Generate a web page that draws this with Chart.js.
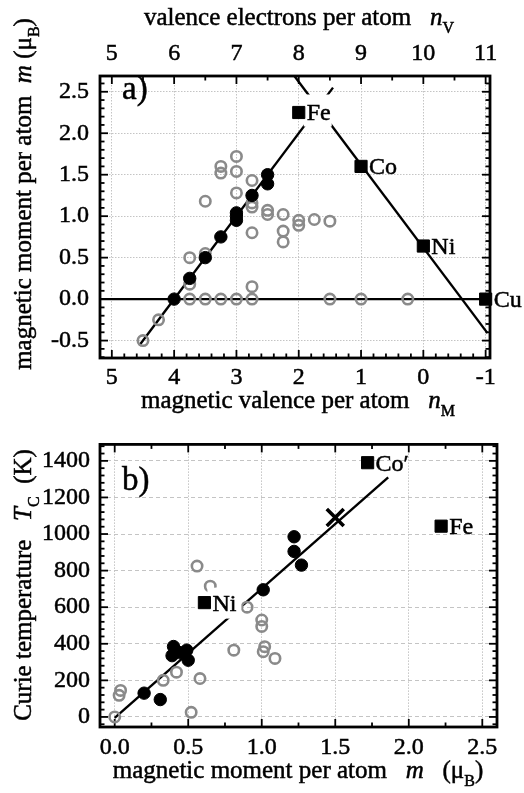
<!DOCTYPE html>
<html>
<head>
<meta charset="utf-8">
<title>Magnetic moment and Curie temperature</title>
<script src="https://cdn.jsdelivr.net/npm/chart.js@4.4.1/dist/chart.umd.min.js"></script>
<style>
  html, body { margin: 0; padding: 0; background: #fff; }
  #page { position: relative; width: 524px; height: 793px; overflow: hidden; }
  canvas { position: absolute; left: 0; }
  #chartA { top: 0; }
  #chartB { top: 420px; }
</style>
</head>
<body>
<div id="page">
  <canvas id="chartA" width="524" height="420"></canvas>
  <canvas id="chartB" width="524" height="373"></canvas>
</div>
<script>
// panel a) magnetic moment vs magnetic valence (top axis: n_V = 10 - n_M)
const nMRange = [-1.07, 5.19];
const mRangeA = [-0.71, 2.69];
const nMTicks = [5, 4, 3, 2, 1, 0, -1];
const nVTicks = [5, 6, 7, 8, 9, 10, 11];
const mTicksA = [-0.5, 0, 0.5, 1, 1.5, 2, 2.5];

const elementsA = ["Fe", "Co", "Ni", "Cu"];
const elementsA_nM = [2, 1, 0, -1];
const elementsA_m = [2.25, 1.6, 0.64, 0];

const filledA_nM = [4, 3.75, 3.5, 3.25, 3, 3, 3, 2.75, 2.5, 2.5];
const filledA_m = [0, 0.25, 0.5, 0.75, 0.95, 1.0, 1.04, 1.25, 1.39, 1.5];

const openA_nM = [4.5, 4.25, 3.75, 3.5, 3.25, 3, 2.75, 1.5, 1, 0.25,
                  3.75, 3.75, 3.5, 3.5, 3.25, 3.25, 3, 3, 3,
                  2.75, 2.75, 2.75, 2.75, 2.75, 2.5, 2.5,
                  2.25, 2.25, 2.25, 2, 2, 1.75, 1.5];
const openA_m = [-0.5, -0.25, 0, 0, 0, 0, 0, 0, 0, 0,
                 0.5, 0.18, 0.55, 1.18, 1.6, 1.52, 1.72, 1.54, 1.28,
                 1.43, 1.16, 1.11, 0.8, 0.15, 1.07, 1.02,
                 1.02, 0.82, 0.69, 0.95, 0.89, 0.96, 0.94];

const leftLine_nM = [4.56, 1.45];
const leftLine_m = [-0.56, 2.55];
const rightLine_nM = [2.07, -1.03];
const rightLine_m = [2.69, -0.41];
const zeroLine_m = [0, 0];

// panel b) Curie temperature vs magnetic moment
const mRangeB = [-0.1, 2.6];
const tcRange = [-55, 1490];
const mTicksB = [0, 0.5, 1, 1.5, 2, 2.5];
const tcTicks = [0, 200, 400, 600, 800, 1000, 1200, 1400];

const elementsB = ["Co\u2032", "Fe", "Ni"];
const elementsB_m = [1.72, 2.22, 0.61];
const elementsB_tc = [1390, 1043, 625];

const filledB_m = [0.2, 0.31, 0.39, 0.4, 0.42, 0.45, 0.49, 0.5, 1.01, 1.22, 1.22, 1.27];
const filledB_tc = [130, 95, 335, 385, 360, 350, 365, 310, 695, 985, 905, 830];

const openB_m = [0, 0.03, 0.04, 0.33, 0.42, 0.52, 0.56, 0.58, 0.65, 0.81, 0.9, 1.0, 1.0, 1.01, 1.02, 1.09];
const openB_tc = [0, 118, 145, 200, 245, 25, 825, 210, 715, 365, 600, 530, 495, 357, 384, 320];

const crossB_m = [1.5];
const crossB_tc = [1090];

const fitB_m = [0, 1.86];
const fitB_tc = [-5, 1310];

const FONT = "'Liberation Serif', 'Times New Roman', serif";
const GRAY = "#8a8a8a";

function pts(xs, ys) {
    return xs.map((x, i) => ({ x: x, y: ys[i] }));
}

function fixedTicks(values) {
    return function (scale) {
        scale.ticks = values.map(v => ({ value: v }));
    };
}

// text with a thin outline, a bit heavier like the scanned figure
function heavyText(ctx, s, x, y) {
    ctx.fillText(s, x, y);
    ctx.strokeText(s, x, y);
}

function richText(ctx, parts, x, y, size, vertical) {
    ctx.save();
    ctx.translate(x, y);
    if (vertical) ctx.rotate(-Math.PI / 2);
    ctx.fillStyle = "#000";
    ctx.strokeStyle = "#000";
    ctx.lineWidth = 0.5;
    ctx.textBaseline = "alphabetic";
    ctx.textAlign = "left";
    const fontFor = p => (p[1] === "i" ? "italic " : "") +
        (p[1] === "s" ? Math.round(size * 0.62) : size) + "px " + FONT;
    let w = 0;
    parts.forEach(p => { ctx.font = fontFor(p); w += ctx.measureText(p[0]).width; });
    let cx = -w / 2;
    parts.forEach(p => {
        ctx.font = fontFor(p);
        heavyText(ctx, p[0], cx, p[1] === "s" ? size * 0.3 : 0);
        cx += ctx.measureText(p[0]).width;
    });
    ctx.restore();
}

// frame, inward ticks, labels and titles
function makeDecor(cfg) {
    return {
        id: "decor",
        beforeDatasetsDraw(chart) {
            const ctx = chart.ctx, a = chart.chartArea;
            ctx.save();
            ctx.strokeStyle = "#000";
            ctx.lineWidth = 1.8;
            cfg.marks.forEach(mk => {
                const s = chart.scales[mk.scale];
                const lo = Math.min(s.min, s.max), hi = Math.max(s.min, s.max);
                const k0 = Math.ceil(lo / mk.minor - 1e-6), k1 = Math.floor(hi / mk.minor + 1e-6);
                for (let k = k0; k <= k1; k++) {
                    const v = k * mk.minor;
                    const isMajor = Math.abs(v / mk.major - Math.round(v / mk.major)) < 1e-6;
                    const len = isMajor ? 8 : 4.5;
                    const p = s.getPixelForValue(v);
                    ctx.beginPath();
                    if (mk.side === "bottom") { ctx.moveTo(p, a.bottom); ctx.lineTo(p, a.bottom - len); }
                    if (mk.side === "top") { ctx.moveTo(p, a.top); ctx.lineTo(p, a.top + len); }
                    if (mk.side === "left") { ctx.moveTo(a.left, p); ctx.lineTo(a.left + len, p); }
                    if (mk.side === "right") { ctx.moveTo(a.right, p); ctx.lineTo(a.right - len, p); }
                    ctx.stroke();
                }
            });
            ctx.lineWidth = 2.8;
            ctx.strokeRect(a.left, a.top, a.right - a.left, a.bottom - a.top);
            ctx.restore();
        },
        afterDatasetDraw(chart, args) {
            // label backgrounds hide what lies below the square labels
            if (args.index !== 1) return;
            const ctx = chart.ctx;
            ctx.save();
            ctx.fillStyle = "#fff";
            cfg.masks.forEach(mk => {
                const px = chart.scales.x.getPixelForValue(cfg.lx[mk.i]);
                const py = chart.scales.y.getPixelForValue(cfg.ly[mk.i]);
                ctx.fillRect(px + mk.box[0], py + mk.box[1], mk.box[2] - mk.box[0], mk.box[3] - mk.box[1]);
            });
            ctx.restore();
        },
        afterDatasetsDraw(chart) {
            const ctx = chart.ctx;
            ctx.save();
            ctx.fillStyle = "#000";
            ctx.strokeStyle = "#000";
            ctx.lineWidth = 0.5;
            ctx.textBaseline = "alphabetic";
            ctx.textAlign = "left";
            ctx.font = "24px " + FONT;
            cfg.names.forEach((name, i) => {
                const px = chart.scales.x.getPixelForValue(cfg.lx[i]);
                const py = chart.scales.y.getPixelForValue(cfg.ly[i]);
                heavyText(ctx, name, px + 8, py + 8);
            });
            ctx.font = "33px " + FONT;
            heavyText(ctx, cfg.letter[0], cfg.letter[1], cfg.letter[2]);
            ctx.restore();
        },
        afterDraw(chart) {
            cfg.titles.forEach(t => richText(chart.ctx, t.parts, t.x, t.y, 25, t.vertical));
        }
    };
}

function tickOpts(pad, fmt) {
    return {
        color: "#000", font: { family: FONT, size: 24 }, padding: pad,
        textStrokeColor: "#000", textStrokeWidth: 0.5,
        maxRotation: 0, autoSkip: false, callback: fmt
    };
}

const openStyle = {
    pointStyle: "circle", pointRadius: 5.2, pointBorderWidth: 2.6,
    pointBorderColor: GRAY, pointBackgroundColor: "rgba(0,0,0,0)"
};
const filledStyle = {
    pointStyle: "circle", pointRadius: 6.2, pointBorderWidth: 1,
    pointBorderColor: "#000", pointBackgroundColor: "#000"
};
const squareStyle = {
    pointStyle: "rect", pointRadius: 8.6, pointBorderWidth: 1,
    pointBorderColor: "#000", pointBackgroundColor: "#000", clip: false
};
const lineStyle = {
    showLine: true, pointRadius: 0, borderColor: "#000", borderWidth: 2.4, fill: false
};

// ---------- chart a ----------
new Chart(document.getElementById("chartA"), {
    type: "scatter",
    data: {
        datasets: [
            Object.assign({ data: pts(elementsA_nM, elementsA_m) }, squareStyle),
            Object.assign({ data: pts(filledA_nM, filledA_m) }, filledStyle),
            Object.assign({ data: pts(openA_nM, openA_m) }, openStyle),
            Object.assign({ data: pts(leftLine_nM, leftLine_m) }, lineStyle),
            Object.assign({ data: pts(rightLine_nM, rightLine_m) }, lineStyle),
            Object.assign({ data: pts(nMRange, zeroLine_m) }, lineStyle)
        ]
    },
    options: {
        responsive: false,
        animation: false,
        devicePixelRatio: 1,
        events: [],
        layout: { padding: { left: 0, right: 34, top: 0, bottom: 0 } },
        plugins: { legend: { display: false }, tooltip: { enabled: false } },
        scales: {
            x: {
                type: "linear", position: "bottom", reverse: true,
                min: nMRange[0], max: nMRange[1],
                afterBuildTicks: fixedTicks(nMTicks),
                afterFit(s) { s.height = 62; },
                ticks: tickOpts(5, v => String(v)),
                grid: { color: "#c4c4c4", lineWidth: 1, drawTicks: false },
                border: { display: false, dash: [1.5, 1.5] }
            },
            x2: {
                type: "linear", position: "top",
                min: 10 - nMRange[1], max: 10 - nMRange[0],
                afterBuildTicks: fixedTicks(nVTicks),
                afterFit(s) { s.height = 76; },
                ticks: tickOpts(8, v => String(v)),
                grid: { display: false, drawTicks: false },
                border: { display: false }
            },
            y: {
                type: "linear", position: "left",
                min: mRangeA[0], max: mRangeA[1],
                afterBuildTicks: fixedTicks(mTicksA),
                afterFit(s) { s.width = 100; },
                ticks: tickOpts(11, v => v.toFixed(1)),
                grid: { color: "#c4c4c4", lineWidth: 1, drawTicks: false },
                border: { display: false, dash: [1.5, 1.5] }
            }
        }
    },
    plugins: [makeDecor({
        marks: [
            { scale: "x", side: "bottom", major: 1, minor: 0.2 },
            { scale: "x2", side: "top", major: 1, minor: 0.5 },
            { scale: "y", side: "left", major: 0.5, minor: 0.1 },
            { scale: "y", side: "right", major: 0.5, minor: 0.1 }
        ],
        names: elementsA, lx: elementsA_nM, ly: elementsA_m,
        masks: [{ i: 0, box: [5, -18, 33, 14] }],
        letter: ["a)", 122, 99],
        titles: [
            { parts: [["valence electrons per atom   ", ""], ["n", "i"], ["V", "s"]], x: 299, y: 25 },
            { parts: [["magnetic valence per atom   ", ""], ["n", "i"], ["M", "s"]], x: 298, y: 408 },
            { parts: [["magnetic moment per atom  ", ""], ["m", "i"], [" (", ""], ["\u03bc", ""], ["B", "s"], [")", ""]],
              x: 31, y: 194, vertical: true }
        ]
    })]
});

// ---------- chart b ----------
new Chart(document.getElementById("chartB"), {
    type: "scatter",
    data: {
        datasets: [
            Object.assign({ data: pts(elementsB_m, elementsB_tc) }, squareStyle),
            { data: pts(crossB_m, crossB_tc), pointStyle: "crossRot", pointRadius: 12,
              pointBorderWidth: 3.6, pointBorderColor: "#000" },
            Object.assign({ data: pts(filledB_m, filledB_tc) }, filledStyle),
            Object.assign({ data: pts(openB_m, openB_tc) }, openStyle),
            Object.assign({ data: pts(fitB_m, fitB_tc) }, lineStyle)
        ]
    },
    options: {
        responsive: false,
        animation: false,
        devicePixelRatio: 1,
        events: [],
        layout: { padding: { left: 0, right: 27, top: 23, bottom: 0 } },
        plugins: { legend: { display: false }, tooltip: { enabled: false } },
        scales: {
            x: {
                type: "linear", position: "bottom",
                min: mRangeB[0], max: mRangeB[1],
                afterBuildTicks: fixedTicks(mTicksB),
                afterFit(s) { s.height = 66; },
                ticks: tickOpts(6, v => v.toFixed(1)),
                grid: { color: "#c4c4c4", lineWidth: 1, drawTicks: false },
                border: { display: false, dash: [1.5, 1.5] }
            },
            y: {
                type: "linear", position: "left",
                min: tcRange[0], max: tcRange[1],
                afterBuildTicks: fixedTicks(tcTicks),
                afterFit(s) { s.width = 100; },
                ticks: tickOpts(10, v => String(v)),
                grid: { color: "#c4c4c4", lineWidth: 1, drawTicks: false },
                border: { display: false, dash: [4, 3] }
            }
        }
    },
    plugins: [makeDecor({
        marks: [
            { scale: "x", side: "bottom", major: 0.5, minor: 0.25 },
            { scale: "x", side: "top", major: 0.5, minor: 0.25 },
            { scale: "y", side: "left", major: 200, minor: 40 },
            { scale: "y", side: "right", major: 200, minor: 40 }
        ],
        names: elementsB, lx: elementsB_m, ly: elementsB_tc,
        masks: [{ i: 2, box: [3, -15, 37, 16] }],
        letter: ["b)", 122, 70],
        titles: [
            { parts: [["magnetic moment per atom   ", ""], ["m", "i"], ["   (", ""], ["\u03bc", ""], ["B", "s"], [")", ""]],
              x: 298, y: 358 },
            { parts: [["Curie temperature   ", ""], ["T", "i"], ["C", "s"], ["  (K)", ""]],
              x: 31, y: 165, vertical: true }
        ]
    })]
});
</script>
</body>
</html>
